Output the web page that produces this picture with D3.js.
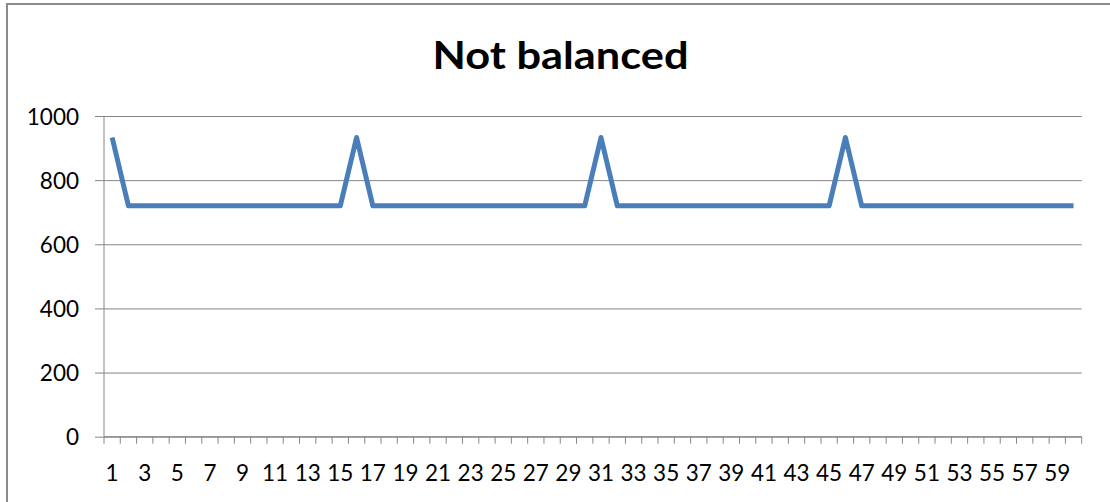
<!DOCTYPE html>
<html>
<head>
<meta charset="utf-8">
<script src="https://cdn.jsdelivr.net/npm/d3@7"></script>
<style>
  html, body { margin: 0; padding: 0; background: #fff; }
  svg { display: block; }
  text { font-family: Lato, "Open Sans", sans-serif; fill: #000; }
</style>
</head>
<body>
<svg id="chart" width="1110" height="502"></svg>
<script>
// Category labels 1..60 and the series values
const categories = [
  1, 2, 3, 4, 5, 6, 7, 8, 9, 10, 11, 12, 13, 14, 15, 16, 17, 18, 19, 20,
  21, 22, 23, 24, 25, 26, 27, 28, 29, 30, 31, 32, 33, 34, 35, 36, 37, 38, 39, 40,
  41, 42, 43, 44, 45, 46, 47, 48, 49, 50, 51, 52, 53, 54, 55, 56, 57, 58, 59, 60
];
const values = [
  933, 720, 720, 720, 720, 720, 720, 720, 720, 720, 720, 720, 720, 720, 720,
  933, 720, 720, 720, 720, 720, 720, 720, 720, 720, 720, 720, 720, 720, 720,
  933, 720, 720, 720, 720, 720, 720, 720, 720, 720, 720, 720, 720, 720, 720,
  933, 720, 720, 720, 720, 720, 720, 720, 720, 720, 720, 720, 720, 720, 720
];
const yTicks = [0, 200, 400, 600, 800, 1000];
const title = "Not balanced";

const svg = d3.select("#chart");
const plot = { left: 104, right: 1081.7, top: 116, bottom: 436.7 };
const axisColor = "#868686";

// Outer chart border
svg.append("rect")
  .attr("x", 7).attr("y", 4)
  .attr("width", 1200).attr("height", 600)
  .attr("fill", "#fff")
  .attr("stroke", "#8c8c8c")
  .attr("stroke-width", 2);

const x = d3.scaleBand().domain(categories).range([plot.left, plot.right]).padding(0);
const y = d3.scaleLinear().domain([0, 1000]).range([plot.bottom, plot.top]);

// Title
svg.append("text")
  .attr("x", 560.5).attr("y", 69)
  .attr("text-anchor", "middle")
  .attr("font-size", 38)
  .attr("font-weight", "bold")
  .attr("textLength", 256)
  .attr("lengthAdjust", "spacingAndGlyphs")
  .text(title);

// Horizontal gridlines with outside tick marks
const yAxis = d3.axisLeft(y).tickValues(yTicks)
  .tickSize(-(plot.right - plot.left)).tickPadding(0).tickFormat(d3.format("d"));
const gy = svg.append("g").attr("transform", `translate(${plot.left},0)`).call(yAxis);
gy.select(".domain").remove();
gy.selectAll(".tick line").attr("stroke", axisColor).attr("stroke-width", 1)
  .attr("x1", -9);
gy.selectAll(".tick text").remove();
gy.selectAll(".tick").append("text")
  .attr("x", -25).attr("y", 0)
  .attr("dy", "0.36em")
  .attr("text-anchor", "end")
  .attr("font-size", 22.5)
  .attr("fill", "#000")
  .text(d => d);

// Vertical axis line
svg.append("line")
  .attr("x1", plot.left).attr("x2", plot.left)
  .attr("y1", plot.top).attr("y2", plot.bottom)
  .attr("stroke", axisColor).attr("stroke-width", 1);

// Horizontal axis with ticks at category boundaries
const boundaries = categories.map(c => x(c)).concat([plot.right]);
svg.append("line")
  .attr("x1", plot.left).attr("x2", plot.right)
  .attr("y1", plot.bottom).attr("y2", plot.bottom)
  .attr("stroke", axisColor).attr("stroke-width", 1);
svg.append("g").selectAll("line").data(boundaries).join("line")
  .attr("x1", d => d).attr("x2", d => d)
  .attr("y1", plot.bottom).attr("y2", plot.bottom + 7)
  .attr("stroke", axisColor).attr("stroke-width", 1);

// Odd category labels
svg.append("g").selectAll("text")
  .data(categories.filter((c, i) => i % 2 === 0)).join("text")
  .attr("x", d => x(d) + x.bandwidth() / 2)
  .attr("y", 480.5)
  .attr("text-anchor", "middle")
  .attr("font-size", 22.5)
  .text(d => d);

// Series line
const line = d3.line()
  .x((d, i) => x(categories[i]) + x.bandwidth() / 2)
  .y(d => y(d));
svg.append("path")
  .datum(values)
  .attr("d", line)
  .attr("fill", "none")
  .attr("stroke", "#4a7ebb")
  .attr("stroke-width", 5)
  .attr("stroke-linejoin", "round");
</script>
</body>
</html>
